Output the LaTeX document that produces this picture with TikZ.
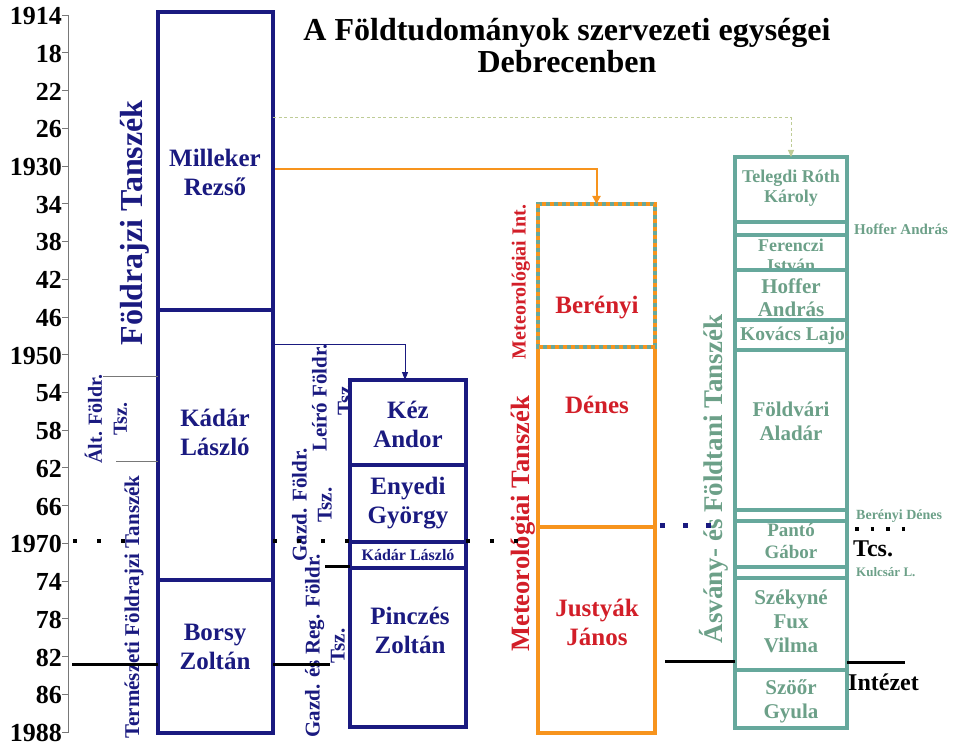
\documentclass[tikz,border=0pt]{standalone}
\usepackage{fontspec}
\setmainfont{Liberation Serif}
\usetikzlibrary{arrows.meta}
\definecolor{navy}{RGB}{26,26,128}
\definecolor{orng}{RGB}{247,148,29}
\definecolor{redtxt}{RGB}{210,30,40}
\definecolor{tealbox}{RGB}{102,168,156}
\definecolor{tealtxt}{RGB}{108,160,136}
\definecolor{olivedash}{RGB}{190,204,150}
\definecolor{axisgray}{RGB}{120,120,120}
\newcommand{\fs}[2]{\fontsize{#1}{#2}\selectfont}
\begin{document}
\begin{tikzpicture}[x=1pt,y=-1pt,
  box/.style={draw, inner sep=0pt, outer sep=0pt, anchor=north west},
  navybox/.style={box, draw=navy, line width=4pt},
  orangebox/.style={box, draw=orng, line width=4pt},
  tealb/.style={box, draw=tealbox, line width=4pt},
  nametxt/.style={font=\bfseries\fs{25}{29}, text=navy, align=center, inner sep=0pt},
  redname/.style={font=\bfseries\fs{25}{29}, text=redtxt, align=center, inner sep=0pt},
  tealname/.style={font=\bfseries\fs{20}{23}, text=tealtxt, align=center, inner sep=0pt},
  vlabel/.style={rotate=90, font=\bfseries\fs{21}{25}, text=navy, align=center, inner sep=0pt},
  yearlbl/.style={font=\bfseries\fs{26}{30}, anchor=east, inner sep=0pt},
  thickblack/.style={line width=3pt, black},
  dotblack/.style={line width=3.5pt, black, dash pattern=on 3.5pt off 20.5pt},
  tip/.style={-{Triangle[length=8pt,width=8pt]}}
]
\useasboundingbox (0,0) rectangle (955,746);

% year axis
\draw[axisgray, line width=0.8pt] (68,15) -- (68,733);
\foreach \y/\t [count=\i from 0] in {1914/1914,1918/18,1922/22,1926/26,1930/1930,1934/34,1938/38,1942/42,1946/46,1950/1950,1954/54,1958/58,1962/62,1966/66,1970/1970,1974/74,1978/78,1982/82,1986/86,1990/1988}{
  \pgfmathsetmacro{\yy}{15+\i*37.74}
  \draw[axisgray, line width=0.8pt] (62,\yy) -- (68,\yy);
  \node[yearlbl] (yr\i) at (62,\yy+1) {\t};
}

% title
\node[font=\bfseries\fs{32}{32}, align=center, inner sep=0pt] (title) at (567,46) {A Földtudományok szervezeti egységei\\Debrecenben};

% left column
\node[navybox, minimum width=115pt, minimum height=298pt] (milleker) at (158,12) {};
\node[navybox, minimum width=115pt, minimum height=270pt] (kadar) at (158,310) {};
\node[navybox, minimum width=115pt, minimum height=153pt] (borsy) at (158,580) {};
\node[nametxt] (tmill) at (215,172) {Milleker\\Rezső};
\node[nametxt] (tkadar) at (215,432) {Kádár\\László};
\node[nametxt] (tborsy) at (215,647) {Borsy\\Zoltán};

% left vertical labels
\node[vlabel, font=\bfseries\fs{32}{36}] (lfold) at (135,223) {Földrajzi Tanszék};
\node[vlabel, font=\bfseries\fs{20}{25}] (lalt) at (106,419) {Ált. Földr.\\Tsz.};
\node[vlabel, font=\bfseries\fs{21}{24}] (lterm) at (134,607) {Természeti Földrajzi Tanszék};
\coordinate (g1a) at (103,376); \coordinate (g1b) at (116,461);
\draw[axisgray, line width=0.8pt] (g1a) -- (milleker.west |- g1a);
\draw[axisgray, line width=0.8pt] (g1b) -- (kadar.west |- g1b);

% middle column
\node[navybox, line width=4.5pt, minimum width=116pt, minimum height=85pt] (kez) at (350,380) {};
\node[navybox, line width=4.5pt, minimum width=116pt, minimum height=77pt] (enyedi) at (350,465) {};
\node[navybox, line width=4.5pt, minimum width=116pt, minimum height=26pt] (kadar2) at (350,542) {};
\node[navybox, line width=4.5pt, minimum width=116pt, minimum height=159pt] (pincz) at (350,568) {};
\node[nametxt] (tkez) at (408,424) {Kéz\\Andor};
\node[nametxt] (tenyedi) at (408,503) {Enyedi\\György};
\node[nametxt, font=\bfseries\fs{16}{18}] (tkadar2) at (408,555) {Kádár László};
\node[nametxt] (tpincz) at (410,630) {Pinczés\\Zoltán};
\node[vlabel] (lleiro) at (332,398) {Leíró Földr.\\Tsz.};
\node[vlabel] (lgazd) at (312,505) {Gazd. Földr.\\Tsz.};
\node[vlabel] (lgazdreg) at (325,646) {Gazd. és Reg. Földr.\\Tsz.};

% orange column
\node[orangebox, minimum width=117pt, minimum height=180pt] (denes) at (538,347) {};
\node[orangebox, minimum width=117pt, minimum height=206pt] (justyak) at (538,527) {};
\node[tealb, draw=tealbox, line width=4pt, minimum width=117pt, minimum height=143pt] (bereny) at (538,204) {};
\draw[orng, line width=4pt, dash pattern=on 4pt off 4pt] (bereny.north west) rectangle (bereny.south east);
\node[redname] (tbereny) at (597,308) {Berényi};
\node[redname] (tdenes) at (597,405) {Dénes};
\node[redname] (tjust) at (597,622) {Justyák\\János};
\node[vlabel, font=\bfseries\fs{20}{23}, text=redtxt] (lmetint) at (521,282) {Meteorológiai Int.};
\node[vlabel, font=\bfseries\fs{26.5}{30}, text=redtxt] (lmettsz) at (523,524) {Meteorológiai Tanszék};

% right column
\node[tealb, minimum width=112pt, minimum height=65pt] (telegdi) at (735,157) {};
\node[tealb, minimum width=112pt, minimum height=13pt] (thin1) at (735,222) {};
\node[tealb, minimum width=112pt, minimum height=35pt] (ferenczi) at (735,235) {};
\node[tealb, minimum width=112pt, minimum height=50pt] (hoffer) at (735,270) {};
\node[tealb, minimum width=112pt, minimum height=30pt] (kovacs) at (735,320) {};
\node[tealb, minimum width=112pt, minimum height=160pt] (foldvari) at (735,350) {};
\node[tealb, minimum width=112pt, minimum height=11pt] (thin2) at (735,510) {};
\node[tealb, minimum width=112pt, minimum height=46pt] (panto) at (735,521) {};
\node[tealb, minimum width=112pt, minimum height=11pt] (thin3) at (735,567) {};
\node[tealb, minimum width=112pt, minimum height=92pt] (szekyne) at (735,578) {};
\node[tealb, minimum width=112pt, minimum height=58pt] (szoor) at (735,670) {};
\node[tealname, font=\bfseries\fs{18}{20}] (ttelegdi) at (791,188) {Telegdi Róth\\Károly};
\node[tealname, font=\bfseries\fs{18}{20}] (tferenczi) at (791,255) {Ferenczi\\István};
\draw[tealbox, line width=4pt] (hoffer.north west) -- (hoffer.north east);
\node[tealname, font=\bfseries\fs{21}{23}] (thoffer) at (791,298) {Hoffer\\András};
\begin{scope}
\clip (kovacs.north west) rectangle (kovacs.south east);
\node[tealname, font=\bfseries\fs{19.5}{21}, anchor=west] (tkovacs) at (740,336) {Kovács Lajos};
\end{scope}
\node[tealname, font=\bfseries\fs{21}{24}] (tfoldvari) at (791,421) {Földvári\\Aladár};
\node[tealname, font=\bfseries\fs{19}{22}] (tpanto) at (791,541) {Pantó\\Gábor};
\node[tealname, font=\bfseries\fs{21}{24}] (tszekyne) at (791,621) {Székyné\\Fux\\Vilma};
\node[tealname, font=\bfseries\fs{21}{24}] (tszoor) at (791,701) {Szöőr\\Gyula};
\node[vlabel, font=\bfseries\fs{27}{30}, text=tealtxt] (lasv) at (714,479) {Ásvány- és Földtani Tanszék};
\node[font=\bfseries\fs{15}{17}, text=tealtxt, anchor=west, inner sep=0pt] (lhoff) at (854,229) {Hoffer András};
\node[font=\bfseries\fs{14}{16}, text=tealtxt, anchor=west, inner sep=0pt] (lbd) at (856,516) {Berényi Dénes};
\node[font=\bfseries\fs{13}{15}, text=tealtxt, anchor=west, inner sep=0pt] (lkul) at (856,572) {Kulcsár L.};
\node[font=\bfseries\fs{24}{26}, anchor=west, inner sep=0pt] (ltcs) at (853,549) {Tcs.};
\node[font=\bfseries\fs{24}{26}, anchor=west, inner sep=0pt] (lint) at (848,682) {Intézet};

% 1970 dotted line
\coordinate (d1a) at (73,541); \coordinate (d1b) at (125,541);
\draw[dotblack] (d1a) -- (d1b);
\draw[dotblack] (kadar.east |- d1a) -- (kadar2.west |- d1a);
\draw[dotblack] (kadar2.east |- d1a) -- (justyak.north west |- d1a);
\coordinate (nd1) at (660,525); \coordinate (nd2) at (715,525);
\draw[navy, line width=5pt, dash pattern=on 5pt off 18pt] (nd1) -- (nd2);
\coordinate (rd1) at (855,529); \coordinate (rd2) at (905,529);
\draw[line width=3.5pt, dash pattern=on 3.5pt off 12pt] (rd1) -- (rd2);

% 1972 and 1982 lines
\coordinate (b72) at (325,566);
\draw[thickblack] (b72) -- (pincz.west |- b72);
\coordinate (b82a) at (72,664); \coordinate (b82b) at (330,664);
\draw[thickblack] (b82a) -- (borsy.west |- b82a);
\draw[thickblack] (borsy.east |- b82b) -- (b82b);
\coordinate (b82c) at (665,661); \coordinate (b82d) at (905,662);
\draw[thickblack] (b82c) -- (szekyne.west |- b82c);
\draw[thickblack] (szekyne.east |- b82d) -- (b82d);

% connectors
\coordinate (c1) at (273,118);
\draw[olivedash, line width=1pt, dash pattern=on 3pt off 2.5pt, -{Triangle[length=7pt,width=6pt]}] (c1) -| (telegdi.north);
\coordinate (c2) at (275,169);
\draw[orng, line width=2pt, tip] (c2) -| (bereny.north);
\coordinate (c3) at (275,344);
\draw[navy, line width=1pt, -{Triangle[length=8pt,width=6pt]}] (c3) -| ([xshift=-3pt]kez.north);
\end{tikzpicture}
\end{document}
